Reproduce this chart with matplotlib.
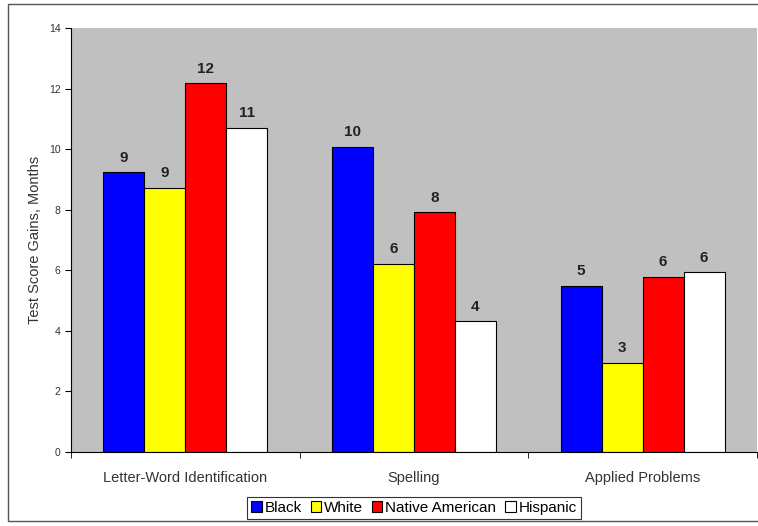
import matplotlib
matplotlib.use("Agg")
import matplotlib.pyplot as plt
from matplotlib.patches import Rectangle
import numpy as np

categories = ["Letter-Word Identification", "Spelling", "Applied Problems"]
series = ["Black", "White", "Native American", "Hispanic"]
colors = ["#0000FF", "#FFFF00", "#FF0000", "#FFFFFF"]
black = [9.24, 10.07, 5.49]
white = [8.72, 6.21, 2.95]
native = [12.18, 7.92, 5.79]
hispanic = [10.70, 4.32, 5.94]
labels = [["9", "10", "5"], ["9", "6", "3"], ["12", "8", "6"], ["11", "4", "6"]]
values = [black, white, native, hispanic]

plt.rcParams['font.family'] = ['Liberation Sans', 'DejaVu Sans']

fig = plt.figure(figsize=(7.58, 5.26), dpi=100)
fig.patches.append(Rectangle((8/758, 5/526), 760/758, 517/526, transform=fig.transFigure,
                             fill=False, edgecolor='#555555', linewidth=1.0))
ax = fig.add_axes([71/758, 74/526, 686/758, 424/526])
ax.set_facecolor('#C0C0C0')

bw = 41/228.7
x = np.arange(len(categories))
for i, (vals, c) in enumerate(zip(values, colors)):
    pos = x + (i - 1.5) * bw
    ax.bar(pos, vals, width=bw, color=c, edgecolor='black', linewidth=0.8, label=series[i])
    for p, v, t in zip(pos, vals, labels[i]):
        ax.text(p, v + 0.25, t, ha='center', va='bottom', fontsize=11, fontweight='bold', color='#222222')

ax.set_xlim(-0.5, 2.5)
ax.set_ylim(0, 14)
ax.set_yticks(range(0, 15, 2))
ax.tick_params(axis='y', labelsize=7.5, colors='black', labelcolor='#333333', direction='out', length=4)
ax.set_xticks(x)
ax.set_xticklabels(categories, fontsize=10.5, color='#333333')
ax.tick_params(axis='x', length=0, pad=14)
ax.set_xticks([-0.5, 0.5, 1.5, 2.5], minor=True)
ax.tick_params(axis='x', which='minor', length=4, direction='out')
for s in ['top', 'right']:
    ax.spines[s].set_visible(False)
ax.spines['left'].set_color('black')
ax.spines['bottom'].set_color('black')
ax.set_ylabel('Test Score Gains, Months', fontsize=10.5, color='#333333', labelpad=5)

leg = fig.legend(loc='center', bbox_to_anchor=(414/758, 1 - 508/526), ncol=4, fontsize=11,
                 frameon=True, fancybox=False, edgecolor='black', handlelength=0.7,
                 handleheight=0.7, handletextpad=0.2, columnspacing=0.55, borderpad=0.25)
leg.get_frame().set_linewidth(0.8)

fig.savefig('out.png', dpi=100)
